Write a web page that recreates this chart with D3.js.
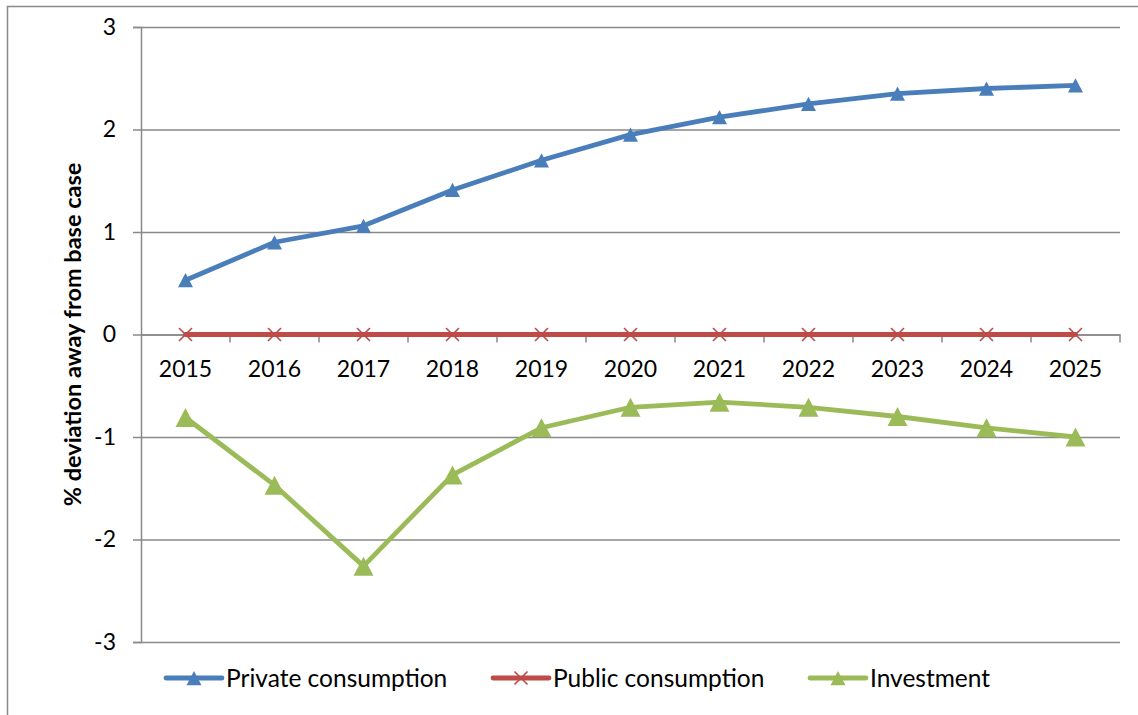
<!DOCTYPE html>
<html>
<head>
<meta charset="utf-8">
<script src="https://cdn.jsdelivr.net/npm/d3@7"></script>
<style>
  html, body { margin: 0; padding: 0; background: #fff; }
  svg { display: block; }
  text { font-family: Lato, "Open Sans", sans-serif; fill: #000; }
</style>
</head>
<body>
<svg id="chart" width="1138" height="715"></svg>
<script>
// Categories and series (% deviation away from base case)
const years = ["2015", "2016", "2017", "2018", "2019", "2020", "2021", "2022", "2023", "2024", "2025"];
const privateConsumption = [0.53, 0.90, 1.06, 1.41, 1.70, 1.95, 2.12, 2.25, 2.35, 2.40, 2.43];
const publicConsumption = [0, 0, 0, 0, 0, 0, 0, 0, 0, 0, 0];
const investment = [-0.81, -1.47, -2.26, -1.37, -0.91, -0.71, -0.66, -0.71, -0.80, -0.91, -1.00];
const yTicks = [-3, -2, -1, 0, 1, 2, 3];
const yTitle = "% deviation away from base case";

const series = [
  { name: "Private consumption", values: privateConsumption, color: "#4A7EBB", marker: "triangle", size: 15 },
  { name: "Public consumption", values: publicConsumption, color: "#BE4B48", marker: "cross", size: 13 },
  { name: "Investment", values: investment, color: "#9BBB59", marker: "triangle", size: 20 }
];

const svg = d3.select("#chart");
const gridColor = "#898989";

// Outer chart frame
svg.append("rect")
  .attr("x", 7.5).attr("y", 6.5)
  .attr("width", 1300).attr("height", 900)
  .attr("fill", "none").attr("stroke", gridColor).attr("stroke-width", 1.5);

const plot = { left: 141, right: 1120, top: 27, bottom: 642 };

const x = d3.scaleBand().domain(years).range([plot.left, plot.right]).padding(0);
const y = d3.scaleLinear().domain([-3, 3]).range([plot.bottom, plot.top]);
const cx = d => x(d) + x.bandwidth() / 2;

// Horizontal gridlines with y axis
const yAxis = d3.axisLeft(y).tickValues(yTicks).tickSize(8).tickPadding(17)
  .tickFormat(d3.format("d"));
const gy = svg.append("g").attr("transform", `translate(${plot.left},0)`).call(yAxis);
gy.select(".domain").attr("stroke", gridColor).attr("stroke-width", 1.5);
gy.selectAll(".tick line").attr("stroke", gridColor).attr("stroke-width", 1.5);
gy.selectAll(".tick").append("line")
  .attr("x1", 0).attr("x2", plot.right - plot.left)
  .attr("stroke", gridColor).attr("stroke-width", 1.5);
gy.selectAll(".tick text")
  .attr("font-family", "Lato, sans-serif").attr("font-size", 23).attr("fill", "#000")
  .text(d => d < 0 ? "-" + Math.abs(d) : d);

// Category axis crossing at zero
const xAxis = d3.axisBottom(x).tickSize(0).tickPadding(26);
const gx = svg.append("g").attr("transform", `translate(0,${y(0)})`).call(xAxis);
gx.select(".domain").attr("stroke", gridColor).attr("stroke-width", 1.5);
gx.selectAll(".tick text")
  .attr("font-family", "Lato, sans-serif").attr("font-size", 23).attr("fill", "#000");
// Tick marks sit between categories
gx.selectAll(".boundary").data(years.slice(1).concat(["end"])).enter().append("line")
  .attr("class", "boundary")
  .attr("x1", (d, i) => plot.left + (i + 1) * x.bandwidth())
  .attr("x2", (d, i) => plot.left + (i + 1) * x.bandwidth())
  .attr("y1", 0).attr("y2", 8)
  .attr("stroke", gridColor).attr("stroke-width", 1.5);

// Y axis title
svg.append("text")
  .attr("transform", `translate(81,${(plot.top + plot.bottom) / 2}) rotate(-90)`)
  .attr("text-anchor", "middle")
  .attr("font-size", 23.5).attr("font-weight", "bold")
  .text(yTitle);

// Marker shapes
function triangle(s) {
  const h = s * 0.95;
  return `M0,${-h / 2}L${s / 2},${h / 2}L${-s / 2},${h / 2}Z`;
}
function drawMarker(g, type, color, s) {
  if (type === "triangle") {
    g.append("path").attr("d", triangle(s)).attr("fill", color);
  } else {
    const r = s / 2;
    g.append("path")
      .attr("d", `M${-r},${-r}L${r},${r}M${-r},${r}L${r},${-r}`)
      .attr("stroke", color).attr("stroke-width", 1.6).attr("fill", "none");
  }
}

const line = d3.line().x(d => cx(d.year)).y(d => y(d.value));

series.forEach(s => {
  const pts = years.map((yr, i) => ({ year: yr, value: s.values[i] }));
  const g = svg.append("g");
  g.append("path").datum(pts)
    .attr("d", line)
    .attr("fill", "none").attr("stroke", s.color)
    .attr("stroke-width", 4.8).attr("stroke-linejoin", "round").attr("stroke-linecap", "round");
  g.selectAll(".m").data(pts).enter().append("g")
    .attr("transform", d => `translate(${cx(d.year)},${y(d.value)})`)
    .each(function () { drawMarker(d3.select(this), s.marker, s.color, s.size); });
});

// Legend
const legendY = 678;
const legendX = [166, 493, 810];
series.forEach((s, i) => {
  const g = svg.append("g").attr("transform", `translate(${legendX[i]},${legendY})`);
  g.append("line").attr("x1", 0).attr("x2", 56)
    .attr("stroke", s.color).attr("stroke-width", 4.8).attr("stroke-linecap", "round");
  const m = g.append("g").attr("transform", "translate(28,0)");
  drawMarker(m, s.marker, s.color, s.marker === "triangle" ? 15 : 13);
  g.append("text").attr("x", 60).attr("y", 0).attr("dy", "0.35em")
    .attr("font-size", 24.5).text(s.name);
});
</script>
</body>
</html>
